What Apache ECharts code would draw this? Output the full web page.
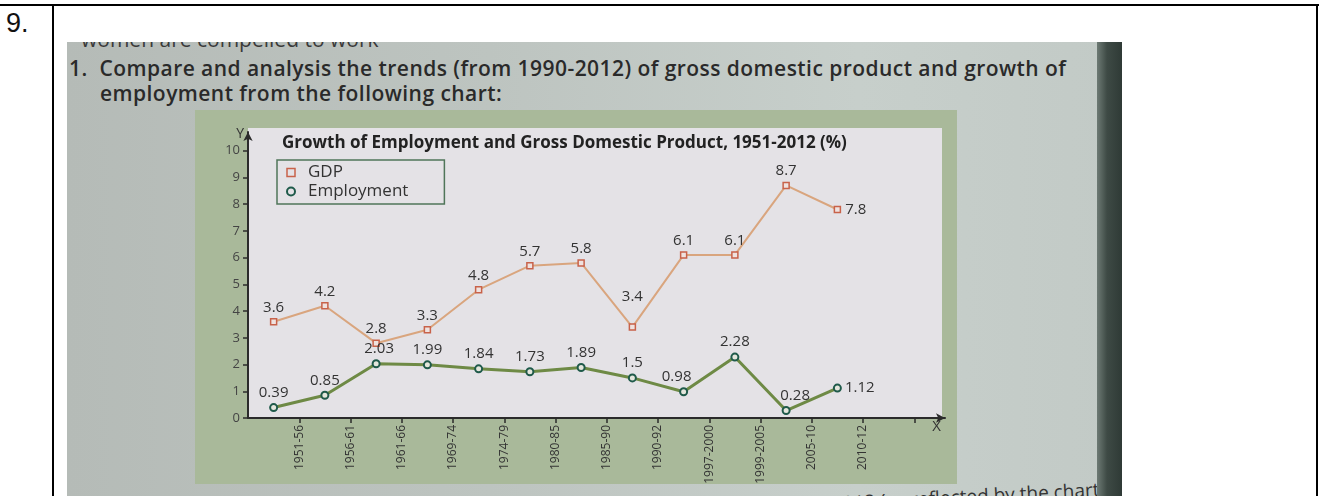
<!DOCTYPE html>
<html>
<head>
<meta charset="utf-8">
<script src="https://cdn.jsdelivr.net/npm/echarts@6/dist/echarts.min.js"></script>
<style>
  html, body { margin: 0; padding: 0; width: 1319px; height: 496px; background: #ffffff; overflow: hidden; }
  .rule { position: absolute; background: #000; }
  #num { position: absolute; left: 6px; top: 8px; font: 27px "Liberation Sans", Arial, sans-serif; color: #111; }
  #photo { position: absolute; left: 67px; top: 42px; width: 1055px; height: 454px; overflow: hidden;
           background: linear-gradient(90deg, #b5bbb7 0%, #bdc4c0 40%, #c7cfcb 75%, #c2cac6 100%); }
  #edge { position: absolute; left: 1030px; top: 0; width: 25px; height: 454px;
          background: linear-gradient(90deg, #6d7a74 0%, #3e4a45 40%, #2f3a36 100%); }
  #greenbox { position: absolute; left: 128px; top: 68px; width: 762px; height: 374px; background: #a9b99a; }
  #whitebox { position: absolute; left: 181px; top: 86px; width: 694px; height: 290px; background: #e4e2e6; }
  .ptext { position: absolute; white-space: nowrap; font-family: "Open Sans", sans-serif; font-weight: 600; color: #2a2a2a; }
  #chart { position: absolute; left: 0; top: 0; width: 1319px; height: 496px; }
</style>
</head>
<body>
<div class="rule" style="left:0;top:4px;width:1319px;height:2px;"></div>
<div class="rule" style="left:52px;top:4px;width:2px;height:492px;"></div>
<div class="rule" style="left:1316px;top:4px;width:2px;height:492px;"></div>
<div id="num">9.</div>
<div id="photo">
  <div id="greenbox"></div>
  <div id="whitebox"></div>
  <div class="ptext" style="left:14px;top:-17px;font-size:21px;font-weight:400;color:#3a3a3a;">women are compelled to work</div>
  <div class="ptext" style="left:2px;top:12px;font-size:21px;letter-spacing:0.45px;">1.&nbsp; Compare and analysis the trends (from 1990-2012) of gross domestic product and growth of</div>
  <div class="ptext" style="left:33px;top:37px;font-size:21px;letter-spacing:0.45px;">employment from the following chart:</div>
  <div class="ptext" style="right:18px;top:434px;font-size:19px;font-weight:400;color:#333;transform:rotate(-3deg);transform-origin:right top;">compare the trends from 1990-2012 (as reflected by the chart)</div>
  <div id="edge"></div>
</div>
<div id="chart"></div>
<script>
// ---- data ----
const periods = ['1951-56','1956-61','1961-66','1969-74','1974-79','1980-85','1985-90','1990-92','1997-2000','1999-2005','2005-10','2010-12'];
const gdp = [3.6, 4.2, 2.8, 3.3, 4.8, 5.7, 5.8, 3.4, 6.1, 6.1, 8.7, 7.8];
const employment = [0.39, 0.85, 2.03, 1.99, 1.84, 1.73, 1.89, 1.5, 0.98, 2.28, 0.28, 1.12];
const yTickValues = [0, 1, 2, 3, 4, 5, 6, 7, 8, 9, 10];
const chartTitle = 'Growth of Employment and Gross Domestic Product, 1951-2012 (%)';

// label placement tweaks (by point index)
const gdpLabelTweaks = { 7: { offset: [0, -16] }, 11: { position: 'right', distance: 4 } };
const empLabelTweaks = { 2: { offset: [3, 0] }, 8: { offset: [-7, 0] }, 10: { offset: [9, 0] }, 11: { position: 'right', distance: 3 } };

const xTickValues = periods.map((p, i) => i + 1).concat([periods.length + 1]);
const xLabelValues = periods.map((p, i) => i + 1);

function build(values, tweaks) {
  return values.map((v, i) => {
    const item = { value: [i + 0.5, v] };
    if (tweaks[i]) item.label = tweaks[i];
    return item;
  });
}

const chart = echarts.init(document.getElementById('chart'), null, { renderer: 'canvas' });
const font = '"Open Sans", sans-serif';
chart.setOption({
  animation: false,
  backgroundColor: 'transparent',
  textStyle: { fontFamily: font },
  title: {
    text: chartTitle, left: 277, top: 130,
    textStyle: { fontFamily: font, fontSize: 17, fontWeight: 'bold', color: '#222' }
  },
  legend: {
    left: 277, top: 160, orient: 'vertical',
    padding: [4, 36, 4, 9], itemGap: 2,
    borderColor: '#4f7559', borderWidth: 1.5,
    itemWidth: 8, itemHeight: 8,
    textStyle: { fontFamily: font, fontSize: 17, color: '#333', padding: [0, 0, 0, 8] },
    data: [
      { name: 'GDP', icon: 'rect', itemStyle: { color: 'transparent', borderColor: '#c8624a', borderWidth: 1.5 } },
      { name: 'Employment', icon: 'circle', itemStyle: { color: 'transparent', borderColor: '#1f5a4a', borderWidth: 2 } }
    ]
  },
  grid: { left: 248, top: 132, right: 374, bottom: 78, containLabel: false },
  xAxis: {
    type: 'value', min: 0, max: 13.6,
    name: 'X', nameLocation: 'end', nameGap: -4,
    nameTextStyle: { fontFamily: font, fontSize: 15, color: '#333', align: 'right', verticalAlign: 'top', padding: [1, 0, 0, 0] },
    axisLine: { show: true, lineStyle: { color: '#2b2b2b', width: 2 }, symbol: ['none', 'arrow'], symbolSize: [7, 9] },
    axisTick: { show: true, length: 5, lineStyle: { color: '#2b2b2b', width: 1.5 }, customValues: xTickValues },
    axisLabel: { rotate: 90, margin: 7, fontSize: 12, color: '#333', customValues: xLabelValues,
                 formatter: v => periods[Math.round(v) - 1] || '' },
    splitLine: { show: false }
  },
  yAxis: {
    type: 'value', min: 0, max: 10.7,
    name: 'Y', nameLocation: 'end', nameGap: -2,
    nameTextStyle: { fontFamily: font, fontSize: 14, color: '#333', align: 'right', verticalAlign: 'middle', padding: [0, 4, 0, 0] },
    axisLine: { show: true, lineStyle: { color: '#2b2b2b', width: 2 }, symbol: ['none', 'arrow'], symbolSize: [7, 9] },
    axisTick: { show: true, length: 5, lineStyle: { color: '#2b2b2b', width: 1.5 }, customValues: yTickValues },
    axisLabel: { margin: 8, fontSize: 13, color: '#444', customValues: yTickValues },
    splitLine: { show: false }
  },
  series: [
    {
      name: 'GDP', type: 'line', data: build(gdp, gdpLabelTweaks),
      symbol: 'rect', symbolSize: 6, showAllSymbol: true,
      lineStyle: { color: '#d9a57e', width: 2 },
      itemStyle: { color: '#efe2df', borderColor: '#c8624a', borderWidth: 1.5 },
      label: { show: true, position: 'top', distance: 3, fontSize: 15, color: '#333', fontFamily: font,
               formatter: p => String(p.value[1]) },
      z: 3
    },
    {
      name: 'Employment', type: 'line', data: build(employment, empLabelTweaks),
      symbol: 'circle', symbolSize: 7, showAllSymbol: true,
      lineStyle: { color: '#6e8a45', width: 3 },
      itemStyle: { color: '#e4e6dc', borderColor: '#1f5a4a', borderWidth: 2 },
      label: { show: true, position: 'top', distance: 3, fontSize: 15, color: '#333', fontFamily: font,
               formatter: p => String(p.value[1]) },
      z: 4
    }
  ]
});
</script>
</body>
</html>
